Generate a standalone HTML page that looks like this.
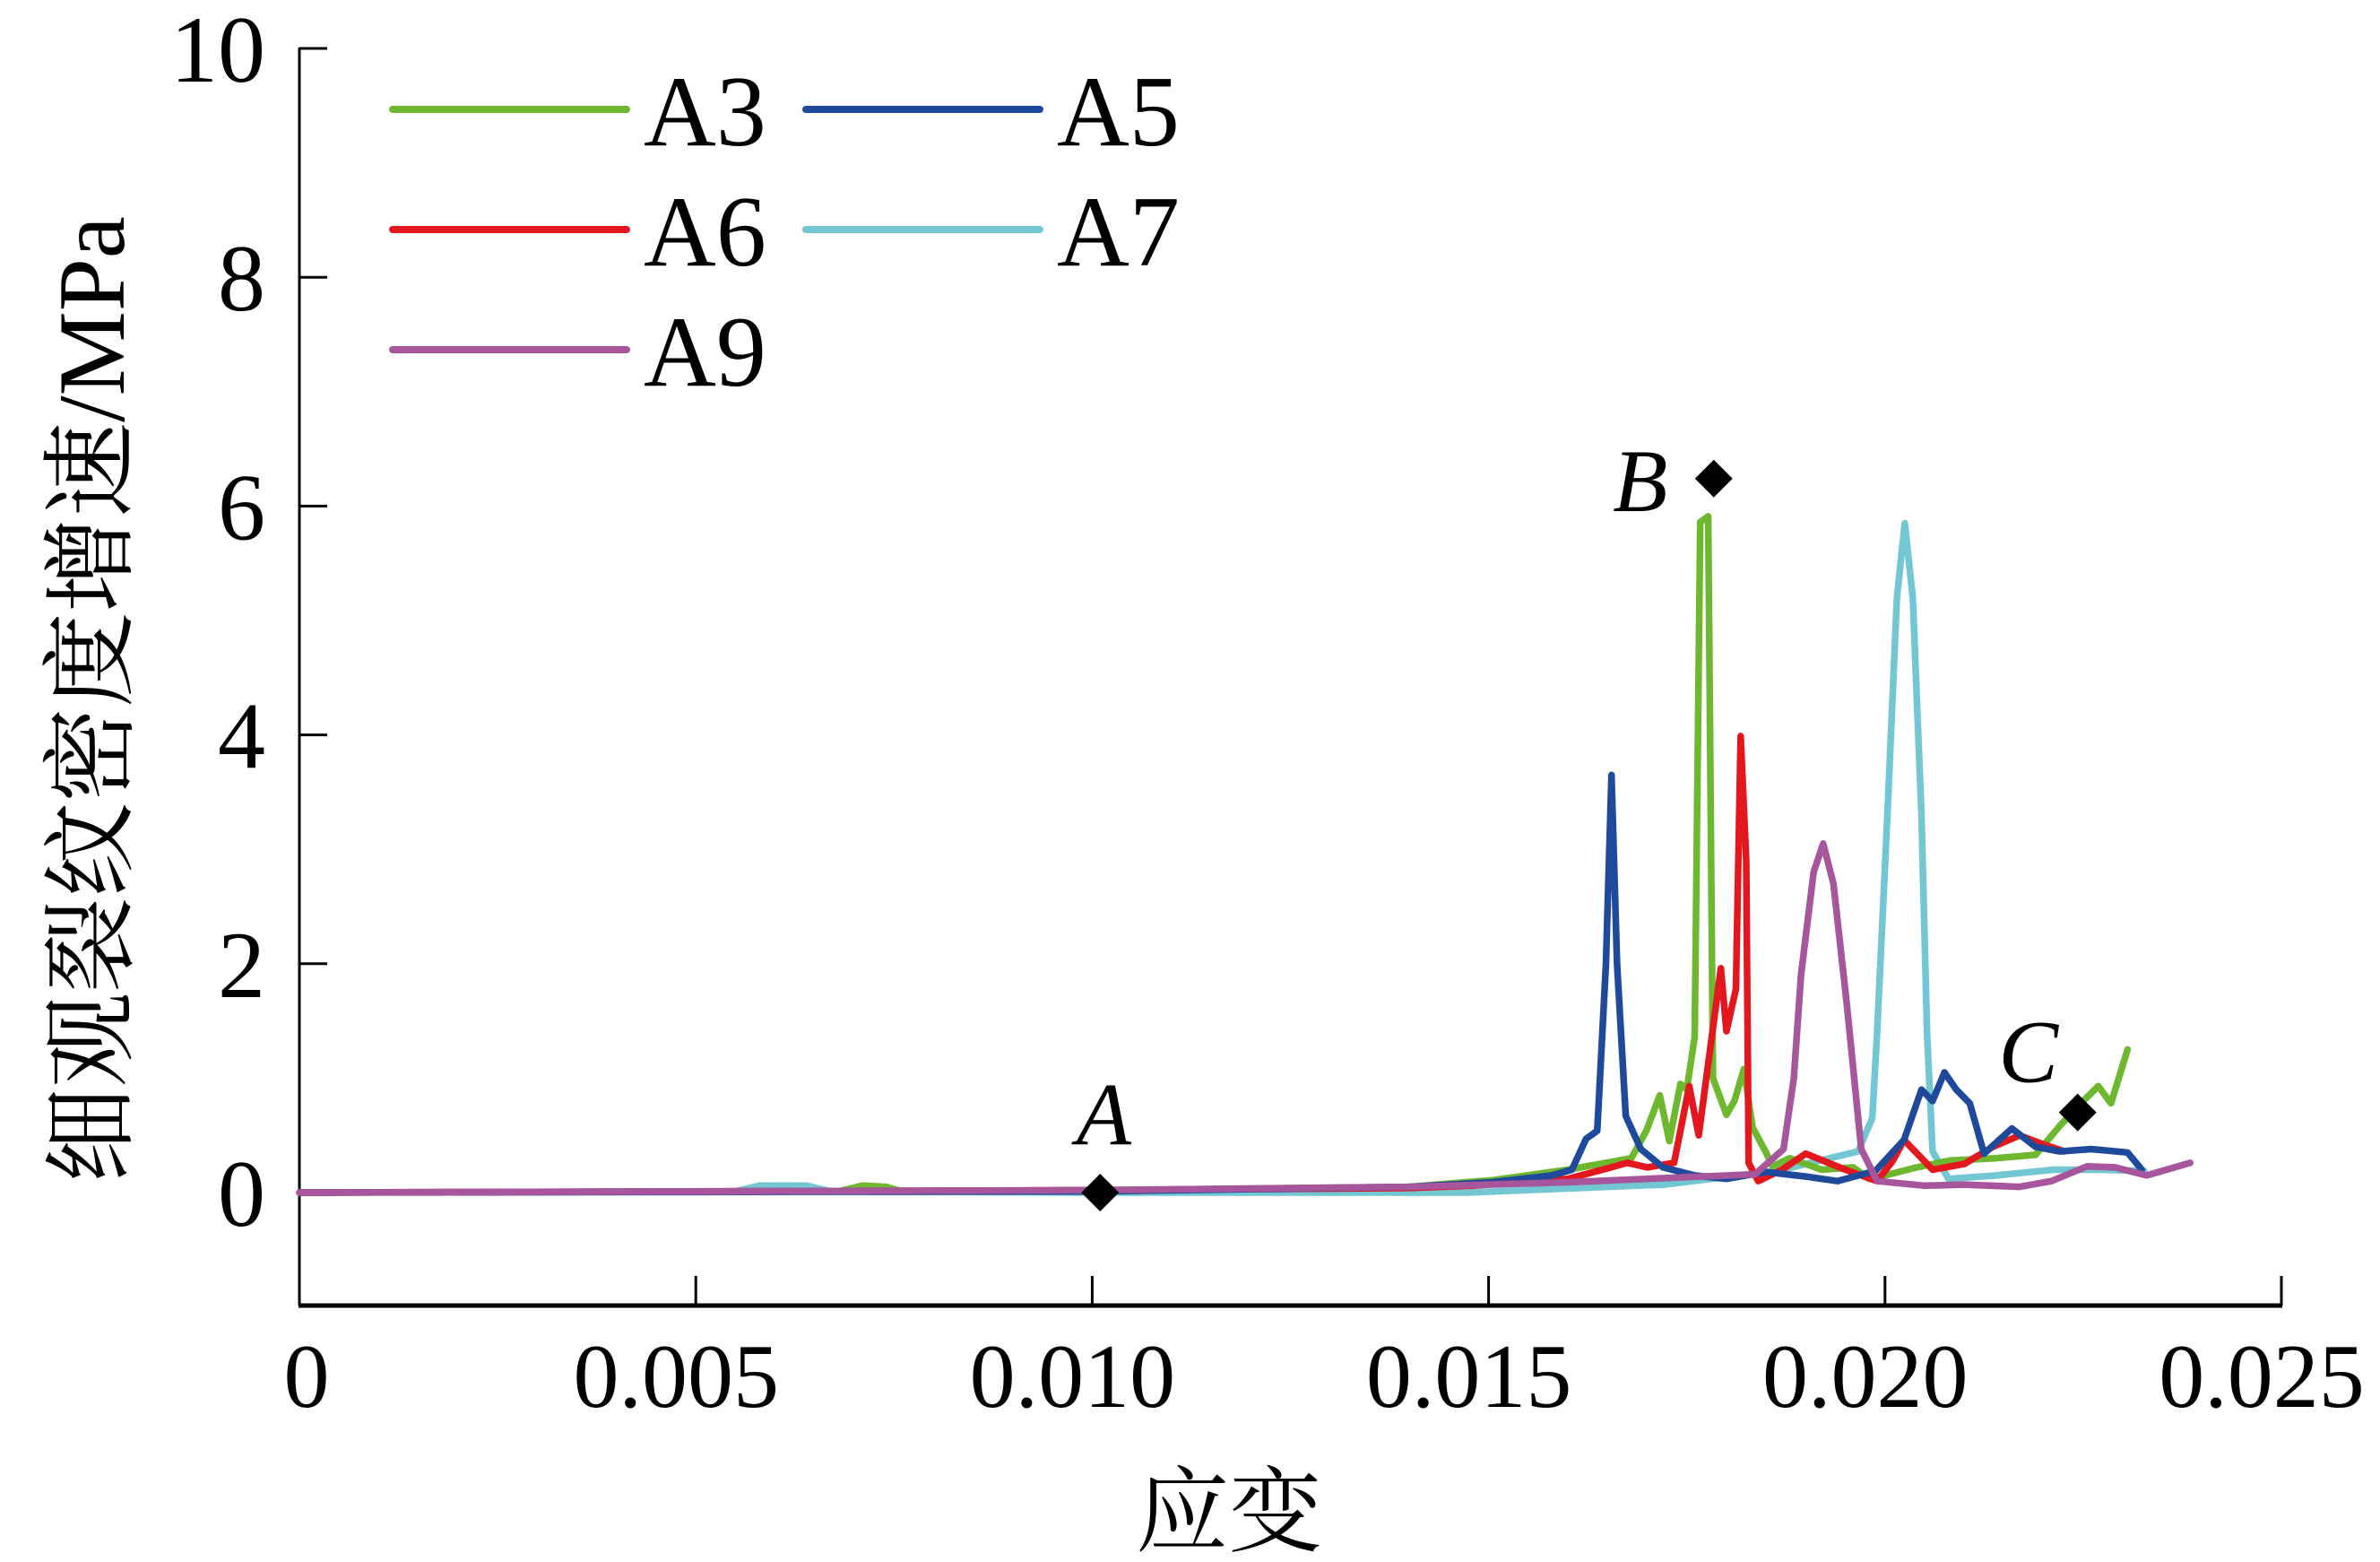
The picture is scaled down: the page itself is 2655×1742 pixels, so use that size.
<!DOCTYPE html>
<html><head><meta charset="utf-8"><style>
html,body{margin:0;padding:0;background:#fff;}
svg{display:block;}
text{font-family:"Liberation Serif","Noto Serif CJK SC",serif;fill:#000;}
</style></head><body>
<svg id="chart" width="2655" height="1742" viewBox="0 0 2655 1742" xmlns="http://www.w3.org/2000/svg">
<g id="axes"></g>
<g id="series"></g>
<g id="marks"></g>
<g id="legend"></g>
<text transform="translate(138,780) rotate(-90)" text-anchor="middle" font-size="106">细观裂纹密度增速/MPa</text>
<text x="1371" y="1722" text-anchor="middle" font-size="104">应变</text>
</svg>
<script>
const xTicks=[0,0.005,0.010,0.015,0.020,0.025];
const xTickLabels=["0","0.005","0.010","0.015","0.020","0.025"];
const yTicks=[0,2,4,6,8,10];
const yTickLabels=["0","2","4","6","8","10"];
const names=["A3","A5","A6","A7","A9"];
const colors=["#6db82f","#1f4a9c","#e3171d","#72c7d3","#a7559d"];
const a3x=[0,0.0068,0.0071,0.0074,0.0076,0.0100,0.0140,0.01507,0.0160,0.0168,0.01699,0.01716,0.01728,0.01742,0.0175,0.0176,0.01767,0.01777,0.01783,0.0180,0.0181,0.01822,0.01833,0.0185,0.01858,0.0188,0.0192,0.0196,0.0198,0.0200,0.0204,0.02082,0.0214,0.0219,0.0222,0.0225,0.02269,0.02285,0.02306];
const a3y=[0,0.01,0.06,0.05,0.01,0.02,0.05,0.11,0.2,0.3,0.54,0.85,0.45,0.95,0.9,1.36,5.86,5.91,1.0,0.68,0.8,1.08,0.57,0.35,0.23,0.3,0.2,0.22,0.12,0.15,0.22,0.28,0.3,0.33,0.58,0.8,0.93,0.78,1.25];
const a5x=[0,0.010,0.014,0.01504,0.0158,0.01605,0.01623,0.01637,0.01648,0.01655,0.01662,0.01673,0.01692,0.0172,0.0176,0.0180,0.0185,0.0190,0.0194,0.01988,0.02024,0.02046,0.0206,0.02075,0.0209,0.02107,0.02125,0.0216,0.0219,0.0222,0.0226,0.02306,0.02324];
const a5y=[0,0.01,0.05,0.09,0.15,0.2,0.47,0.54,2.0,3.65,2.0,0.67,0.38,0.22,0.15,0.12,0.18,0.14,0.1,0.19,0.46,0.9,0.8,1.05,0.9,0.78,0.34,0.56,0.4,0.36,0.38,0.35,0.2];
const a6x=[0,0.0100,0.0140,0.0148,0.0160,0.01649,0.01675,0.0170,0.01734,0.01753,0.01765,0.01793,0.018,0.01812,0.01818,0.01825,0.01828,0.0184,0.0187,0.019,0.0195,0.0199,0.0201,0.02024,0.0206,0.0210,0.02136,0.0217,0.0220,0.02226];
const a6y=[0,0.02,0.04,0.06,0.12,0.21,0.26,0.22,0.26,0.93,0.5,1.96,1.41,1.78,3.99,2.9,0.26,0.1,0.2,0.34,0.2,0.1,0.28,0.46,0.2,0.25,0.4,0.5,0.42,0.36];
const a7x=[0,0.0055,0.0058,0.0064,0.0067,0.0100,0.01473,0.01721,0.01864,0.01966,0.01984,0.0199,0.02003,0.02015,0.02025,0.02035,0.02046,0.02053,0.0206,0.0208,0.0214,0.02212,0.0227,0.02327];
const a7y=[0,0.01,0.06,0.06,0.01,0.0,0.0,0.07,0.19,0.36,0.65,1.4,3.3,5.2,5.85,5.2,3.3,1.4,0.36,0.12,0.15,0.2,0.2,0.19];
const a9x=[0,0.010,0.0140,0.0160,0.01836,0.01872,0.01885,0.01894,0.0191,0.01922,0.01935,0.01952,0.0197,0.0199,0.0205,0.0210,0.0217,0.0221,0.02255,0.0229,0.0233,0.02385];
const a9y=[0,0.02,0.05,0.09,0.16,0.38,1.0,1.9,2.8,3.05,2.7,1.64,0.38,0.1,0.06,0.07,0.05,0.1,0.23,0.22,0.15,0.26];
const markerNames=["A","B","C"];
const markerX=[0.0101,0.01784,0.02243];
const markerY=[0.0,6.24,0.70];

const NS="http://www.w3.org/2000/svg";
const X0=334,X1=2545,Y0=1330,Y10=54,YB=1456;
function sx(v){return X0+(v/0.025)*(X1-X0);}
function sy(v){return Y0-(v/10)*(Y0-Y10);}
function mk(tag,attrs,parent){const e=document.createElementNS(NS,tag);for(const k in attrs)e.setAttribute(k,attrs[k]);parent.appendChild(e);return e;}
const axes=document.getElementById('axes');
let e=mk('line',{x1:X0,y1:Y10-1,x2:X0,y2:YB,stroke:'#000','stroke-width':3},axes);


e=mk('line',{x1:X0-1,y1:YB,x2:X1+1,y2:YB,stroke:'#000','stroke-width':5},axes);


xTicks.forEach((t,i)=>{
  const tk=mk('line',{x1:sx(t),y1:YB,x2:sx(t),y2:YB-33,stroke:'#000','stroke-width':3},axes);
  
  
  const lb=mk('text',{x:sx(t)+(i==0?8:-22),y:1569,'text-anchor':'middle','font-size':102},axes);
  lb.textContent=xTickLabels[i];
  
  
});
yTicks.forEach((t,i)=>{
  const tk=mk('line',{x1:X0,y1:sy(t),x2:X0+31,y2:sy(t),stroke:'#000','stroke-width':3},axes);
  
  
  const lb=mk('text',{x:296,y:sy(t)+37,'text-anchor':'end','font-size':106},axes);
  lb.textContent=yTickLabels[i];
  
  
});
const seriesX=[a3x,a5x,a6x,a7x,a9x];
const seriesY=[a3y,a5y,a6y,a7y,a9y];
const order=[3,0,2,1,4];
const sg=document.getElementById('series');
order.forEach(i=>{
  const pts=seriesX[i].map((x,j)=>sx(x).toFixed(1)+','+sy(seriesY[i][j]).toFixed(1)).join(' ');
  const p=mk('polyline',{points:pts,fill:'none',stroke:colors[i],'stroke-width':7.5,'stroke-linejoin':'round','stroke-linecap':'round'},sg);
  
  
});
const mg=document.getElementById('marks');
const labOff=[[4,-90],[-82,0],[-55,-70]];
markerX.forEach((mx,i)=>{
  const cx=sx(mx),cy=sy(markerY[i]);
  const d=mk('polygon',{points:`${cx},${cy-21} ${cx+21},${cy} ${cx},${cy+21} ${cx-21},${cy}`,fill:'#000'},mg);
  
  
  const t=mk('text',{x:cx+labOff[i][0],y:cy+labOff[i][1]+36,'text-anchor':'middle','font-size':100,'font-style':'italic'},mg);
  t.textContent=markerNames[i];
  
  
});
const lg=document.getElementById('legend');
const legPos=[[438,122],[899,122],[438,256],[899,256],[438,390]];
const legOrder=[0,1,2,3,4];
legOrder.forEach((i,k)=>{
  const [lx,ly]=legPos[k];
  const l=mk('line',{x1:lx,y1:ly,x2:lx+261,y2:ly,stroke:colors[i],'stroke-width':8,'stroke-linecap':'round'},lg);
  
  
  const t=mk('text',{x:lx+280,y:ly+40,'font-size':112},lg);
  t.textContent=names[i];
  
  
});
</script>
</body></html>
